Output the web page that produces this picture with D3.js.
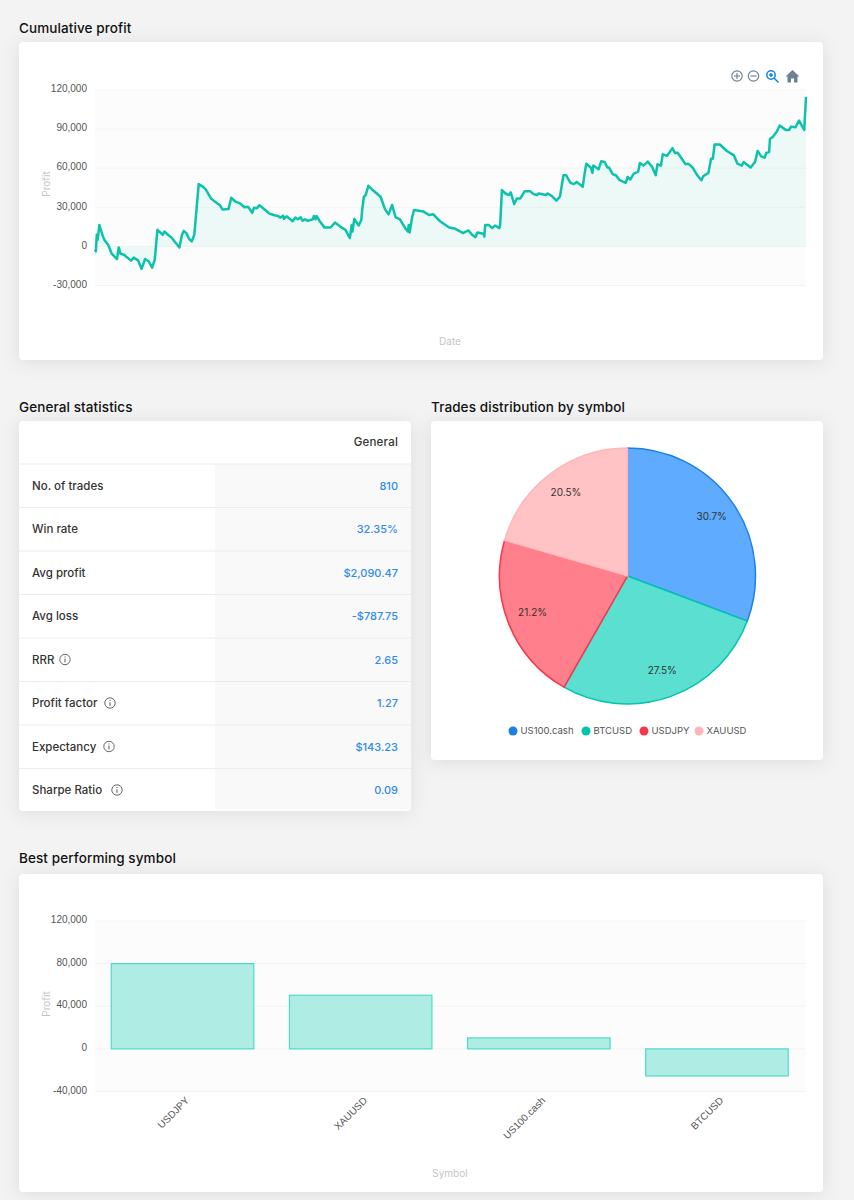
<!DOCTYPE html>
<html>
<head>
<meta charset="utf-8">
<script src="https://cdn.jsdelivr.net/npm/d3@7"></script>
<style>
  html, body { margin: 0; padding: 0; background: #f3f3f3; }
  svg { display: block; font-family: Inter, "Open Sans", sans-serif; }
  .card { fill: #fff; filter: drop-shadow(0 2px 9px rgba(0,0,0,.09)); }
  .title { font-size: 13.5px; font-weight: 500; fill: #111; letter-spacing: .1px; }
  .tick text { font-size: 10px; fill: #555; }
  .axis-title { font-size: 10px; fill: #c4c4c4; }
</style>
</head>
<body>
<script>
// ================== DATA ===========================
const tradeNo = [0,1,2,3,5,6,9,11,15,19,25,27,29,33,41,44,49,53,57,61,65,68,71,74,77,79,84,87,96,99,101,104,107,110,113,118,123,126,132,139,142,145,152,155,160,165,170,174,179,181,184,187,190,198,203,208,211,214,215,218,225,228,231,234,
  236,239,242,248,249,251,252,256,261,268,273,279,285,290,292,293,295,300,303,304,306,308,311,315,325,330,334,338,342,347,353,356,357,358,361,363,374,380,385,393,403,410,419,422,425,429,433,435,442,443,444,448,452,455,460,461,463,467,471,473,477,480,484,489,495,499,503,505,513,515,520,525,529,
  533,536,541,545,548,555,557,559,564,566,567,573,576,580,583,585,589,593,597,604,606,609,613,618,620,624,629,634,638,640,644,646,651,657,660,663,672,675,680,685,690,692,698,701,703,705,711,719,727,731,736,738,746,751,754,758,762,764,767,768,771,776,779,786,790,792,797,801,807,809];
const cumProfit = [-2500,-3800,8900,5100,16500,14000,7600,4600,1300,-5600,-9700,-800,-5600,-6400,-10900,-8600,-10700,-17300,-9700,-11400,-16300,-10200,12700,10900,8900,11400,8400,6900,-800,8900,11900,10200,5800,3800,8900,47800,45700,43700,36800,33000,31800,28400,28700,37300,34300,33000,30000,30500,25900,29700,29200,31500,30000,25400,24100,23400,22100,23600,21100,23100,19300,22100,20800,22400,
  19800,20800,19600,20800,23400,20800,23400,19100,14500,14500,18300,15200,12700,6400,16500,11400,21100,16000,20300,27900,38100,39400,46500,43900,38100,28400,24600,31800,22400,20800,14000,11400,16500,10700,22900,27900,26700,24100,24600,19100,14500,13500,10200,11400,12200,8900,7100,10700,9700,7600,16500,16500,14000,16000,14000,16500,43200,40600,39400,41400,32500,36800,36800,42400,42400,40100,39400,40600,39400,40600,38600,35100,38100,
  54600,54600,48800,47800,49500,45700,55400,63500,60500,56400,62000,59200,65300,64800,60500,60500,55400,54400,50800,48800,53300,51300,55900,57200,64000,62000,65000,61000,54600,63000,62000,70600,69600,75400,71600,71900,63000,63500,60500,54900,50800,53800,56400,67300,67300,78200,78200,73200,69800,63500,62000,64800,60500,64800,73200,69100,68100,71900,72400,82600,83800,88400,92700,89400,89400,91900,91400,96500,89400,114800];
const lineTicks = [120000,90000,60000,30000,0,-30000];

const statLabels = ["No. of trades","Win rate","Avg profit","Avg loss","RRR","Profit factor","Expectancy","Sharpe Ratio"];
const statValues = ["810","32.35%","$2,090.47","-$787.75","2.65","1.27","$143.23","0.09"];
const statInfoX = [null,null,null,null,65,110,109,117];

const pieSymbols = ["US100.cash","BTCUSD","USDJPY","XAUUSD"];
const pieShares = [30.7,27.5,21.2,20.5];
const pieFill = ["#5eabff","#5adfd0","#ff7f8c","#ffc2c5"];
const pieStroke = ["#1a80e5","#00c4ad","#f8364a","#ffb6ba"];
const legendMarkerX = [513,586,644,699];

const barSymbols = ["USDJPY","XAUUSD","US100.cash","BTCUSD"];
const barProfit = [80000,50300,10300,-25400];
const barTicks = [120000,80000,40000,0,-40000];

// ================== LAYOUT ===========================
const svg = d3.select("body").append("svg").attr("width", 854).attr("height", 1200);
const fmt = d => d3.format(",")(d).replace("\u2212", "-");

function card(x, y, w, h, title, titleY) {
  svg.append("rect").attr("class", "card").attr("x", x).attr("y", y).attr("width", w).attr("height", h).attr("rx", 4);
  svg.append("text").attr("class", "title").attr("x", x).attr("y", titleY).text(title);
}
card(19, 42, 804, 318, "Cumulative profit", 33);
card(19, 421, 392, 390, "General statistics", 412);
card(431, 421, 392, 339, "Trades distribution by symbol", 412);
card(19, 874, 804, 318, "Best performing symbol", 863);

// plot background + grid + y axis, shared by both cartesian charts
function yFrame(yScale, ticks, x0, x1) {
  svg.append("rect").attr("x", x0).attr("y", yScale(d3.max(ticks))).attr("width", x1 - x0)
    .attr("height", yScale(d3.min(ticks)) - yScale(d3.max(ticks))).attr("fill", "#fcfcfc");
  const axis = svg.append("g").attr("transform", `translate(${x0},0)`)
    .call(d3.axisLeft(yScale).tickValues(ticks).tickFormat(fmt).tickSize(0).tickPadding(8));
  axis.select(".domain").remove();
  axis.selectAll("text").attr("y", -1.5);
  svg.selectAll(null).data(ticks).enter().append("line")
    .attr("x1", x0).attr("x2", x1).attr("y1", d => yScale(d)).attr("y2", d => yScale(d))
    .attr("stroke", "#f3f3f3");
}

function axisTitle(x, y, text, rotate) {
  svg.append("text").attr("class", "axis-title").attr("text-anchor", "middle")
    .attr("transform", `translate(${x},${y})` + (rotate ? " rotate(-90)" : "")).text(text);
}

// ============ cumulative profit ======================
const xLine = d3.scaleLinear().domain([0, 809]).range([95, 806]);
const yLine = d3.scaleLinear().domain([-30000, 120000]).range([285.5, 90]);
yFrame(yLine, lineTicks, 95, 806);

const linePts = tradeNo.map((t, i) => [t, cumProfit[i]]);
svg.append("path").datum(linePts).attr("fill", "#00c4ad").attr("fill-opacity", 0.06)
  .attr("d", d3.area().x(d => xLine(d[0])).y0(yLine(0)).y1(d => yLine(d[1])));
svg.append("path").datum(linePts).attr("fill", "none").attr("stroke", "#0cc2ab").attr("stroke-width", 2.5)
  .attr("stroke-linejoin", "round")
  .attr("d", d3.line().x(d => xLine(d[0])).y(d => yLine(d[1])));

axisTitle(50, 184, "Profit", true);
axisTitle(450, 345, "Date");

// toolbar icons
const toolbar = svg.append("g").attr("fill", "none").attr("stroke", "#6e8192").attr("stroke-width", 1.2);
toolbar.append("circle").attr("cx", 737).attr("cy", 76).attr("r", 5.2);
toolbar.append("path").attr("d", "M734 76h6M737 73v6");
toolbar.append("circle").attr("cx", 753.5).attr("cy", 76).attr("r", 5.2);
toolbar.append("path").attr("d", "M750.5 76h6");
const zoomIcon = svg.append("g").attr("fill", "none").attr("stroke", "#0f84e8").attr("stroke-width", 1.5);
zoomIcon.append("circle").attr("cx", 771).attr("cy", 75).attr("r", 4.2);
zoomIcon.append("path").attr("d", "M774 78l4.5 4.5M769 75h4M771 73v4");
svg.append("path").attr("fill", "#6e8192").attr("d", "M792.5 70l7 6.5h-2v6h-3.5v-4h-3v4h-3.5v-6h-2z");

// ============ general statistics =====================
const rowY = d3.scaleBand().domain(statLabels).range([464, 812]);
svg.append("rect").attr("x", 215).attr("y", 464).attr("width", 196).attr("height", 345).attr("fill", "#f9f9f9");
svg.append("text").attr("x", 398).attr("y", 446).attr("text-anchor", "end").attr("letter-spacing", 0.2)
  .attr("font-size", 11.5).attr("font-weight", 500).attr("fill", "#333").text("General");

const rows = svg.selectAll(".row").data(statLabels).enter().append("g").attr("class", "row")
  .attr("transform", d => `translate(0,${rowY(d)})`);
rows.append("line").attr("x1", 19).attr("x2", 411).attr("stroke", "#ececec");
rows.append("text").attr("x", 32).attr("y", 25.5).attr("font-size", 11.5).attr("font-weight", 500)
  .attr("fill", "#333").text(d => d);
rows.append("text").attr("x", 398).attr("y", 25.5).attr("text-anchor", "end")
  .attr("font-size", 11).attr("font-weight", 500).attr("fill", "#2f8bf0")
  .text((d, i) => statValues[i]);

const infos = rows.filter((d, i) => statInfoX[i] !== null).append("g")
  .attr("transform", d => `translate(${statInfoX[statLabels.indexOf(d)]},21.5)`);
infos.append("circle").attr("r", 5.2).attr("fill", "none").attr("stroke", "#555").attr("stroke-width", 0.9);
infos.append("path").attr("d", "M0 -0.8v3.6M0 -3v1").attr("stroke", "#555").attr("stroke-width", 1);

// ============ trades distribution pie ================
const pieR = 128;
const pieG = svg.append("g").attr("transform", "translate(627.5,576)");
const arcs = d3.pie().sort(null)(pieShares);
const arcGen = d3.arc().innerRadius(0).outerRadius(pieR);
const labelArc = d3.arc().innerRadius(pieR * 0.8).outerRadius(pieR * 0.8);
pieG.selectAll("path").data(arcs).enter().append("path")
  .attr("d", arcGen)
  .attr("fill", (d, i) => pieFill[i])
  .attr("stroke", (d, i) => pieStroke[i])
  .attr("stroke-width", 1.5);
pieG.selectAll("text").data(arcs).enter().append("text")
  .attr("transform", d => `translate(${labelArc.centroid(d)})`)
  .attr("text-anchor", "middle").attr("dy", "0.2em")
  .attr("font-size", 10).attr("fill", "#333")
  .text((d, i) => pieShares[i] + "%");

const legend = svg.selectAll(".legend").data(pieSymbols).enter().append("g").attr("class", "legend")
  .attr("transform", (d, i) => `translate(${legendMarkerX[i]},731)`);
legend.append("circle").attr("r", 4.5).attr("fill", (d, i) => pieStroke[i]);
legend.append("text").attr("x", 7.5).attr("dy", "0.35em").attr("font-size", 9.5).attr("fill", "#555").text(d => d);

// ============ best performing symbol =================
const xBar = d3.scaleBand().domain(barSymbols).range([93.5, 806]).paddingInner(0.2).paddingOuter(0.1);
const yBar = d3.scaleLinear().domain([-40000, 120000]).range([1091.5, 921]);
yFrame(yBar, barTicks, 95, 806);

svg.selectAll(".bar").data(barSymbols).enter().append("rect").attr("class", "bar")
  .attr("x", d => xBar(d))
  .attr("width", xBar.bandwidth())
  .attr("y", (d, i) => yBar(Math.max(barProfit[i], 0)))
  .attr("height", (d, i) => Math.abs(yBar(barProfit[i]) - yBar(0)))
  .attr("fill", "#afece4").attr("stroke", "#4cdcca").attr("stroke-width", 1.2);

const xAxisG = svg.append("g").attr("transform", "translate(0,1091)")
  .call(d3.axisBottom(xBar).tickSize(0));
xAxisG.select(".domain").remove();
xAxisG.selectAll("text").attr("text-anchor", "end")
  .attr("transform", "translate(0,3) rotate(-45)");

axisTitle(50, 1004, "Profit", true);
axisTitle(450, 1177, "Symbol");
</script>
</body>
</html>
